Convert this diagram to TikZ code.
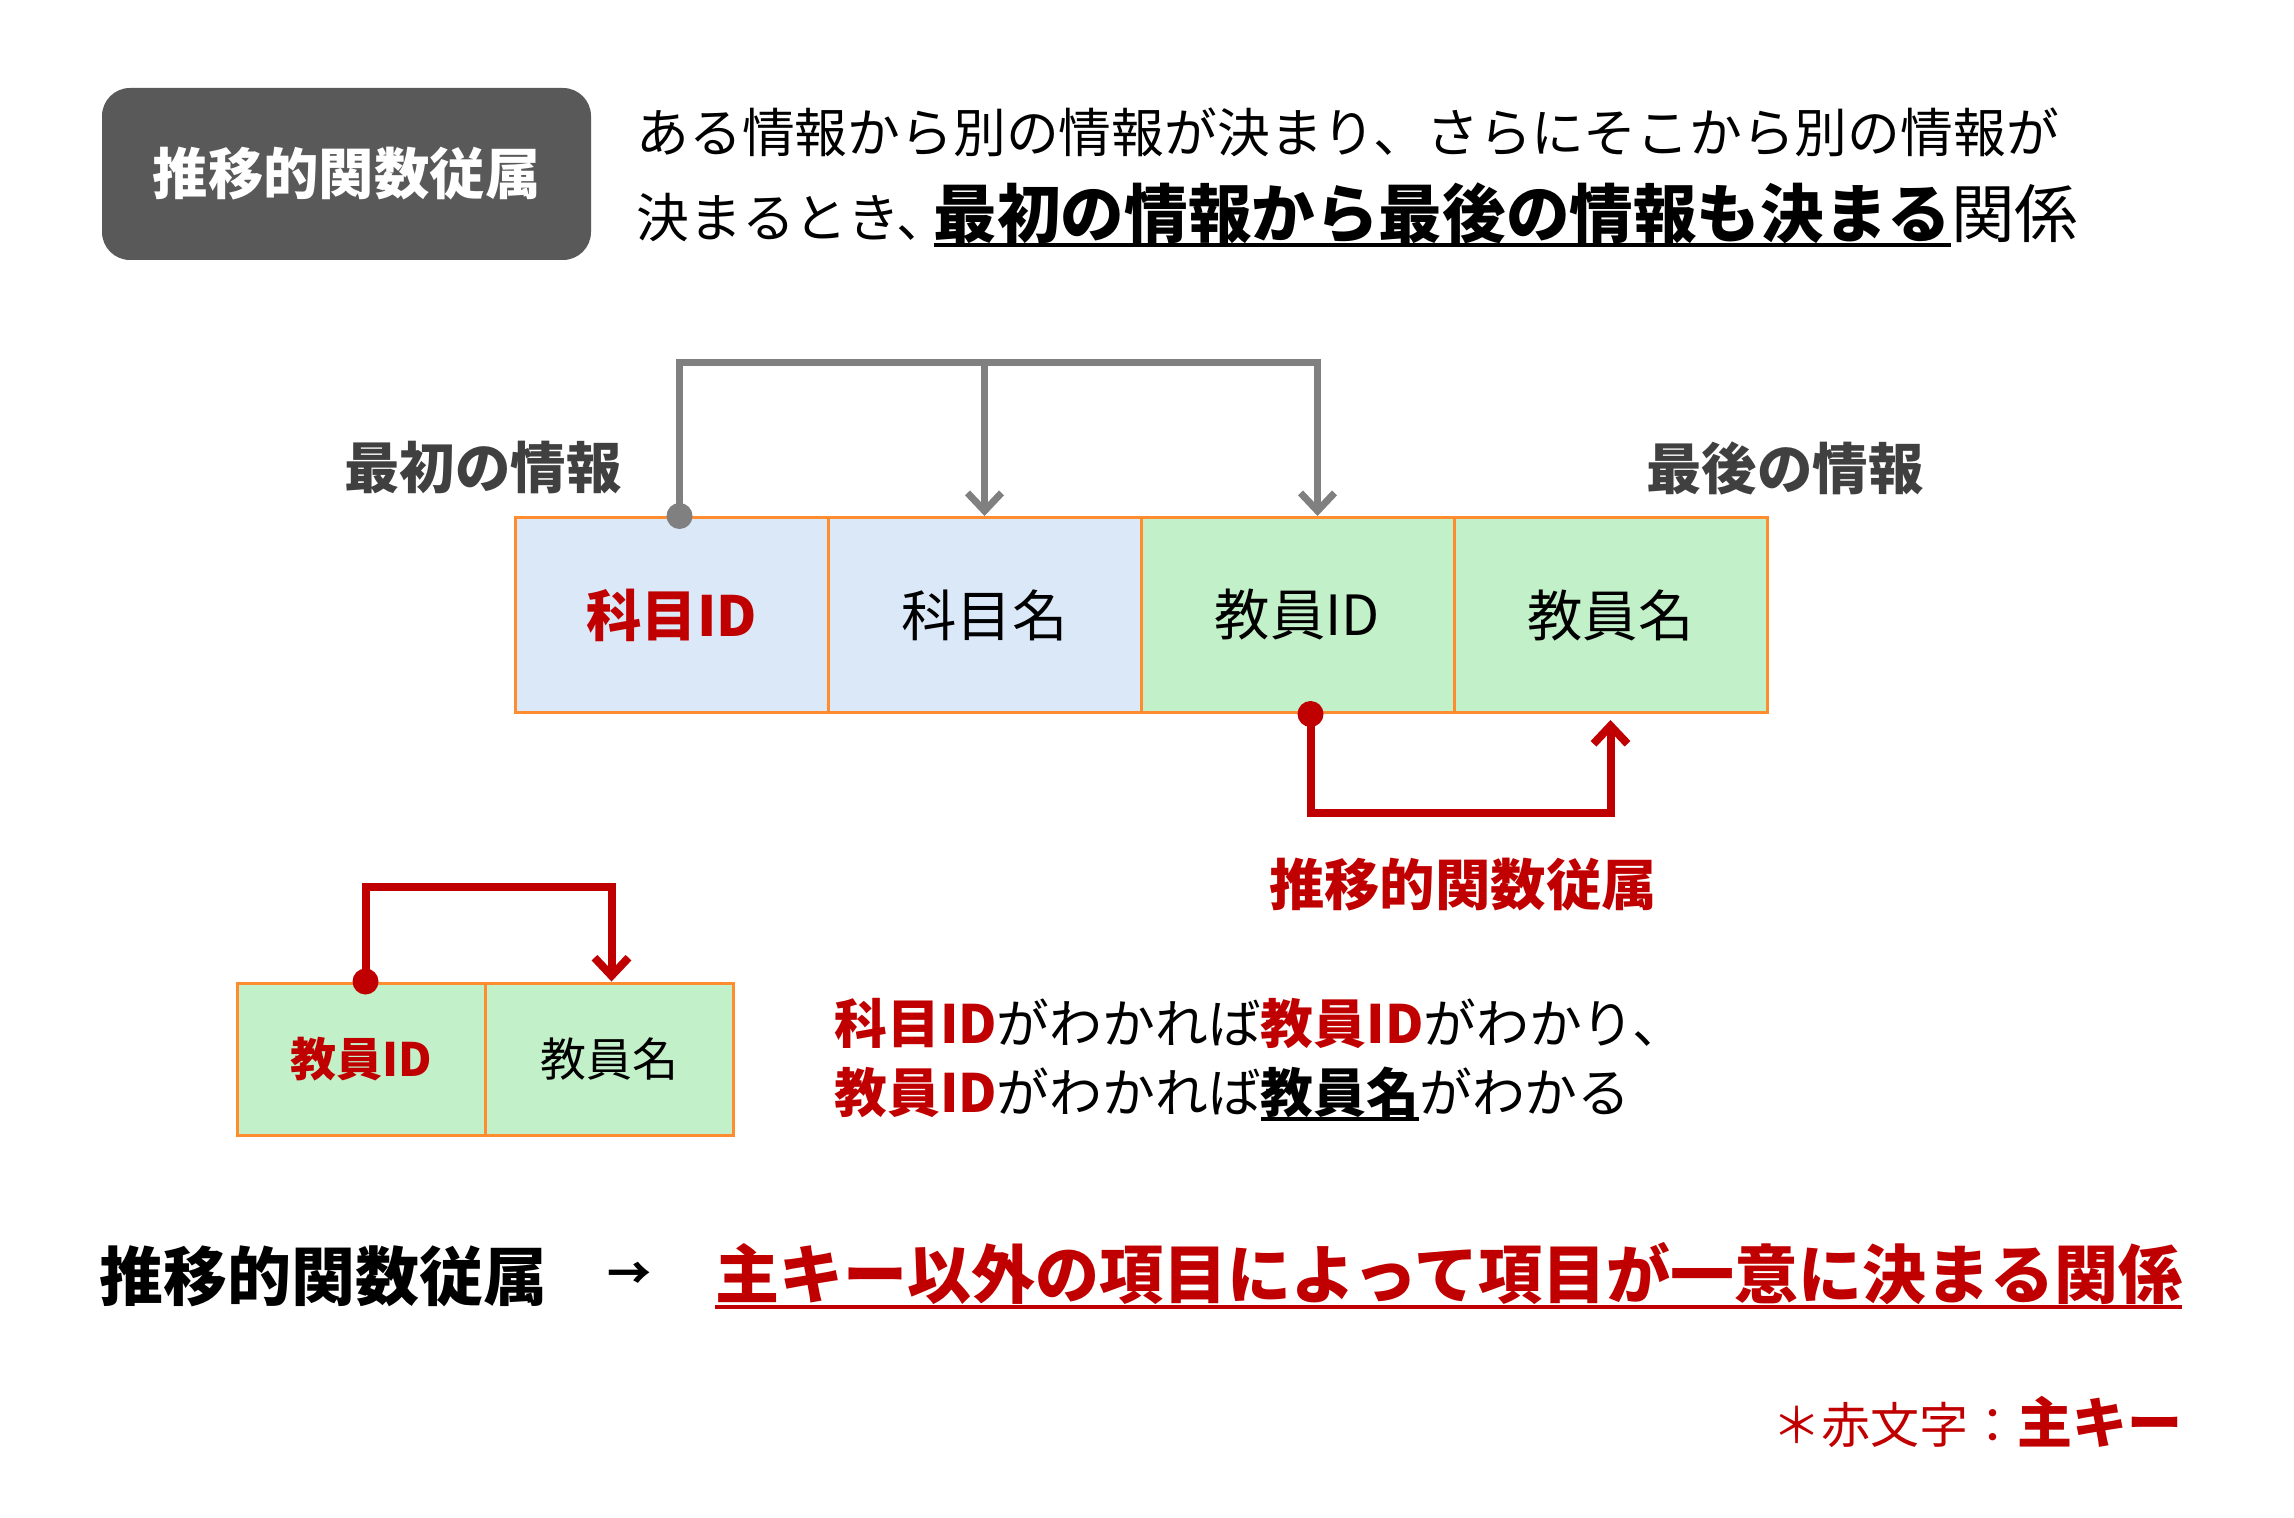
\documentclass[tikz,border=0pt]{standalone}
\usepackage{fontspec}
\setmainfont{Noto Sans CJK JP}
\usetikzlibrary{arrows.meta}

\definecolor{keyred}{HTML}{C00000}
\definecolor{connectgray}{HTML}{808080}
\definecolor{cellline}{HTML}{FF8C2E}
\definecolor{cellblue}{HTML}{DAE8F7}
\definecolor{cellgreen}{HTML}{C2F0C8}
\definecolor{boxgray}{HTML}{595959}
\definecolor{labelgray}{HTML}{404040}

\newcommand{\myul}[2][black]{\setbox0=\hbox{#2}\rlap{\color{#1}\rule[-0.16em]{\wd0}{0.07em}}\box0}

\begin{document}
\begin{tikzpicture}[x=0.5pt, y=0.5pt]

\tikzset{titlebox/.style={fill=boxgray, rounded corners=14pt, minimum width=244.5pt, minimum height=86pt, text=white, font=\fontsize{27.7}{30}\selectfont\bfseries}}
\tikzset{bodytext/.style={anchor=west, inner sep=0pt, text=black, font=\fontsize{26.4}{30}\selectfont}}
\tikzset{sidelabel/.style={inner sep=0pt, text=labelgray, font=\fontsize{27.7}{30}\selectfont\bfseries}}
\tikzset{bluecell/.style={draw=cellline, fill=cellblue, line width=1.5pt, minimum width=156.5pt, minimum height=97.5pt, text=black, font=\fontsize{27.7}{30}\selectfont}}
\tikzset{greencell/.style={bluecell, fill=cellgreen}}
\tikzset{smallcell/.style={greencell, minimum width=124pt, minimum height=76pt, font=\fontsize{23}{26}\selectfont}}
\tikzset{grayconn/.style={draw=connectgray, line width=3.5pt}}
\tikzset{redconn/.style={draw=keyred, line width=4pt}}
\tikzset{barb/.style={-{Straight Barb[length=9pt, width=17pt]}}}

\useasboundingbox (0,0) rectangle (2294,1517);

\node[titlebox] (title) at (346.5,1343) {推移的関数従属};
\node[bodytext] (line1) at (636,1385) {ある情報から別の情報が決まり、さらにそこから別の情報が};
\node[bodytext] (line2) at (636,1302) {決まるとき、\kern-0.3em{\fontsize{31.8}{34}\selectfont\myul{\bfseries 最初の情報から最後の情報も決まる}関係}};

\node[sidelabel] (firstinfo) at (483,1049) {最初の情報};
\node[sidelabel] (lastinfo) at (1785,1049) {最後の情報};

\node[bluecell] (subjid) at (671.5,902) {\textcolor{keyred}{\bfseries 科目ID}};
\node[bluecell] (subjname) at (984.5,902) {科目名};
\node[greencell] (teachid) at (1297.5,902) {教員ID};
\node[greencell] (teachname) at (1610.5,902) {教員名};

\coordinate (gtop) at (0,1154);
\coordinate (rbottom) at (0,704);
\draw[grayconn, barb] ([xshift=4pt]subjid.north) -- ([xshift=4pt]subjid.north |- gtop) -| ([xshift=10pt]teachid.north);
\draw[grayconn, barb] (subjname.north |- gtop) -- (subjname.north);
\fill[connectgray] ([xshift=4pt]subjid.north) circle (6.5pt);

\draw[redconn, barb] ([xshift=6.5pt]teachid.south) -- ([xshift=6.5pt]teachid.south |- rbottom) -| ([yshift=-3pt]teachname.south);
\fill[keyred] ([xshift=6.5pt]teachid.south) circle (6.5pt);
\node[sidelabel, text=keyred] (translabel) at (1463,632) {推移的関数従属};

\node[smallcell] (sid) at (361.5,458) {\textcolor{keyred}{\bfseries 教員ID}};
\node[smallcell] (sname) at (609.5,458) {教員名};

\coordinate (rtop) at (0,630);
\draw[redconn, barb] ([xshift=2pt]sid.north) -- ([xshift=2pt]sid.north |- rtop) -| ([xshift=1pt]sname.north);
\fill[keyred] ([xshift=2pt]sid.north) circle (6.5pt);

\node[bodytext] (rule1) at (834,493) {\textcolor{keyred}{\bfseries 科目ID}がわかれば\textcolor{keyred}{\bfseries 教員ID}がわかり、};
\node[bodytext] (rule2) at (834,423) {\textcolor{keyred}{\bfseries 教員ID}がわかれば\myul{\bfseries 教員名}がわかる};

\node[bodytext, font=\fontsize{32}{36}\selectfont\bfseries] (term) at (99,241) {推移的関数従属};
\node[inner sep=0pt, font=\fontsize{22}{26}\selectfont\bfseries] (arrowsign) at (629,241) {→};
\node[bodytext, text=keyred, font=\fontsize{32}{36}\selectfont\bfseries] (defn) at (715,241) {\myul[keyred]{主キー以外の項目によって項目が一意に決まる関係}};

\node[inner sep=0pt, anchor=east, text=keyred, font=\fontsize{24.5}{28}\selectfont] (note) at (2183,95) {＊赤文字：{\fontsize{27.5}{30}\selectfont\bfseries 主キー}};

\end{tikzpicture}
\end{document}
